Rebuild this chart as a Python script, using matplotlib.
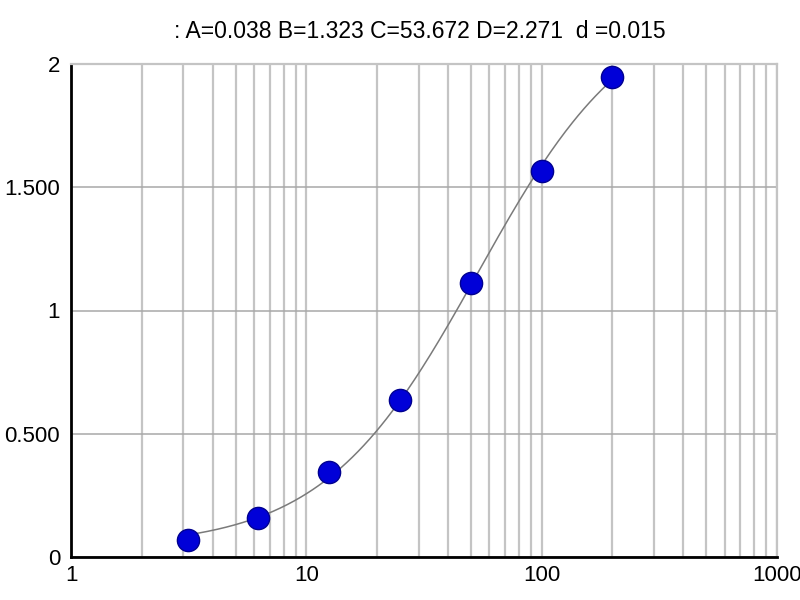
import numpy as np
import matplotlib.pyplot as plt

# standards (concentration) and measured values
conc = [3.125, 6.25, 12.5, 25, 50, 100, 200]
od = [0.069, 0.158, 0.346, 0.637, 1.112, 1.568, 1.95]

# 4-parameter fit shown in the title
A, B, C, D = 0.038, 1.323, 53.672, 2.271
d_err = 0.015

y_ticks = [0, 0.5, 1, 1.5, 2]
y_labels = ['0', '0.500', '1', '1.500', '2']
x_ticks = [1, 10, 100, 1000]
x_labels = ['1', '10', '100', '1000']

plt.rcParams['font.family'] = ['Liberation Sans', 'DejaVu Sans']

fig = plt.figure(figsize=(8, 6), dpi=100)
ax = fig.add_axes([0.089, 0.072, 0.882, 0.821])

xs = np.logspace(np.log10(conc[0]), np.log10(conc[-1]), 300)
fit = D + (A - D) / (1 + (xs / C) ** B)
ax.plot(xs, fit, color='#7a7a7a', lw=1.1, zorder=3)
ax.plot(conc, od, 'o', ms=16, color='#0000d8', mec='#000090', mew=1, zorder=4)

ax.set_xscale('log')
ax.set_xlim(1, 1000)
ax.set_ylim(0, 2)
ax.set_xticks(x_ticks)
ax.set_xticklabels(x_labels)
ax.set_yticks(y_ticks)
ax.set_yticklabels(y_labels)
ax.xaxis.set_minor_formatter(plt.NullFormatter())
ax.tick_params(which='both', length=0, labelsize=16)
ax.tick_params(axis='x', pad=6)
ax.tick_params(axis='y', pad=8)

ax.grid(True, which='both', axis='x', color='#c4c4c4', lw=1.6)
ax.grid(True, which='major', axis='y', color='#a8a8a8', lw=1.1)
ax.set_axisbelow(True)

for s in ['top', 'right']:
    ax.spines[s].set_color('#c4c4c4')
    ax.spines[s].set_linewidth(1.6)
for s in ['left', 'bottom']:
    ax.spines[s].set_color('black')
    ax.spines[s].set_linewidth(2)

fig.text(0.525, 0.948, f': A={A:.3f} B={B:.3f} C={C:.3f} D={D:.3f}  d ={d_err:.3f}',
         ha='center', va='center', fontsize=16.5)

fig.savefig('out.png', dpi=100, facecolor='white')
